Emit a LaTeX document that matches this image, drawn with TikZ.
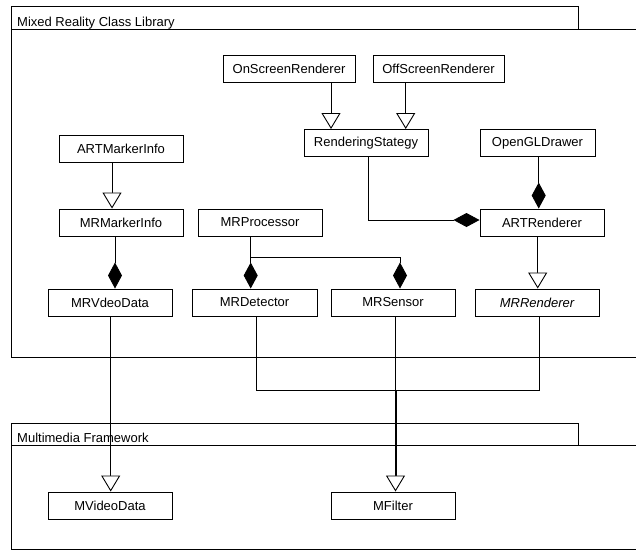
\documentclass[tikz,border=0pt]{standalone}
\usepackage{fontspec}
\setmainfont{Liberation Sans}
\usetikzlibrary{arrows.meta}

\begin{document}
\begin{tikzpicture}[x=1pt,y=-1pt,
  cls/.style={draw,line width=1pt,minimum width=124pt,minimum height=27pt,inner sep=0pt,font=\fontsize{13}{15}\selectfont},
  pkg/.style={line width=0.9pt},
  pkglabel/.style={anchor=base west,inner sep=0pt,font=\fontsize{13}{15}\selectfont},
  link/.style={line width=0.9pt},
  gen/.style={link,-{Triangle[length=16pt,width=19pt,fill=white]}},
  comp/.style={link,-{Diamond[length=26pt,width=14pt]}}]
\useasboundingbox (0,0) rectangle (636,550);
\clip (0,0) rectangle (636,550);
\fill[white] (0,0) rectangle (636,550);

\draw[pkg] (11,6) rectangle (578,29);
\draw[pkg] (11,29) rectangle (660,357);
\node[pkglabel] (mrlib) at (17,26.5) {Mixed Reality Class Library};
\draw[pkg] (11,423) rectangle (578,445);
\draw[pkg] (11,445) rectangle (660,549);
\node[pkglabel] (mmfw) at (17,442.5) {Multimedia Framework};

\node[cls,minimum width=132pt] (onscreen) at (289,68.5) {OnScreenRenderer};
\node[cls,minimum width=131pt] (offscreen) at (438.5,68.5) {OffScreenRenderer};
\node[cls] (rendering) at (366,143) {RenderingStategy};
\node[cls,minimum width=115pt] (opengl) at (537.5,143) {OpenGLDrawer};
\node[cls] (artmarker) at (121,148.5) {ARTMarkerInfo};
\node[cls] (mrmarker) at (121,222.5) {MRMarkerInfo};
\node[cls] (mrproc) at (260,222.5) {MRProcessor};
\node[cls] (artrend) at (542,222.5) {ARTRenderer};
\node[cls] (mrvdeo) at (110,302.5) {MRVdeoData};
\node[cls,minimum width=125pt] (mrdet) at (254.5,302.5) {MRDetector};
\node[cls] (mrsensor) at (393,302.5) {MRSensor};
\node[cls] (mrrend) at (537,302.5) {\itshape MRRenderer};
\node[cls] (mvideo) at (110,505.5) {MVideoData};
\node[cls] (mfilter) at (393,505.5) {MFilter};
\coordinate (filtertop) at (396.2,476);

\draw[gen] (onscreen.south -| 331,0) -- (rendering.north -| 331,0);
\draw[gen] (offscreen.south -| 405.7,0) -- (rendering.north -| 405.7,0);
\draw[gen] (artmarker.south -| 112,0) -- (mrmarker.north -| 112,0);
\draw[comp] (mrmarker.south -| 115,0) -- (mrvdeo.north -| 115,0);
\draw[comp] (mrproc.south -| 250.7,0) -- (mrdet.north -| 250.7,0);
\draw[comp] (mrproc.south -| 250.7,0) |- (400,257.7) -- (mrsensor.north -| 400,0);
\draw[comp] (rendering.south -| 368,0) |- (artrend.west |- 0,220);
\draw[comp] (opengl.south -| 538.7,0) -- (artrend.north -| 538.7,0);
\draw[gen] (artrend.south -| 537.7,0) -- (mrrend.north -| 537.7,0);
\draw[gen] (mrvdeo.south -| 110.7,0) -- (mvideo.north -| 110.7,0);
\draw[link] (mrdet.south -| 256.7,0) |- (396.2,390.7) -- (filtertop);
\draw[link] (mrrend.south -| 539,0) |- (396.2,390.7) -- (filtertop);
\draw[gen] (mrsensor.south -| 395.5,0) -- (mfilter.north -| 395.5,0);
\end{tikzpicture}
\end{document}
